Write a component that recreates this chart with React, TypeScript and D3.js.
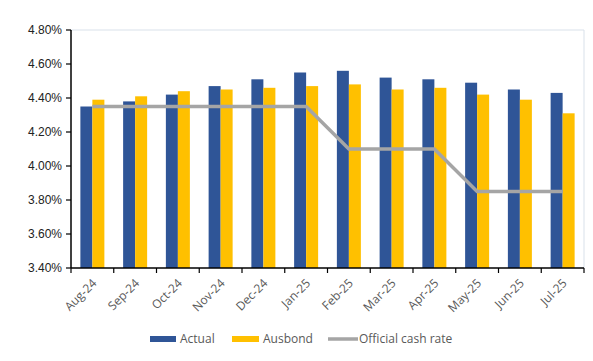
import React from "react";
import * as d3 from "d3";

const categories = ["Aug-24","Sep-24","Oct-24","Nov-24","Dec-24","Jan-25","Feb-25","Mar-25","Apr-25","May-25","Jun-25","Jul-25"];
const actual = [4.35,4.38,4.42,4.47,4.51,4.55,4.56,4.52,4.51,4.49,4.45,4.43];
const ausbond = [4.39,4.41,4.44,4.45,4.46,4.47,4.48,4.45,4.46,4.42,4.39,4.31];
const cashRate = [4.35,4.35,4.35,4.35,4.35,4.35,4.10,4.10,4.10,3.85,3.85,3.85];
const yTicks = [3.4,3.6,3.8,4.0,4.2,4.4,4.6,4.8];
const seriesNames = ["Actual","Ausbond","Official cash rate"];

const W = 593, H = 361;
const left = 71, right = 584, top = 30, bottom = 268;
const BLUE = "#2F5597", GOLD = "#FFC000", GREY = "#A5A5A5";

export default function App() {
  const x = d3.scaleBand<string>().domain(categories).range([left, right]).paddingInner(0).paddingOuter(0);
  const y = d3.scaleLinear().domain([3.4, 4.8]).range([bottom, top]);
  const bw = x.bandwidth();
  const barW = 12;
  const line = d3.line<number>()
    .x((_, i) => (x(categories[i]) as number) + bw / 2)
    .y(d => y(d));
  const ticksX = categories.map(c => x(c) as number).concat([right]);
  return (
    <svg width={W} height={H} style={{ position: "absolute", left: 0, top: 0, background: "#fff" }}>
      <line x1={left} x2={right} y1={top} y2={top} stroke="#D9E1EA" strokeWidth={1} />
      <line x1={right} x2={right} y1={top} y2={bottom} stroke="#D9E1EA" strokeWidth={1} />
      {categories.map((c, i) => {
        const cx = (x(c) as number) + bw / 2;
        return (
          <g key={c}>
            <rect x={cx - barW} y={y(actual[i])} width={barW} height={bottom - y(actual[i])} fill={BLUE} />
            <rect x={cx} y={y(ausbond[i])} width={barW} height={bottom - y(ausbond[i])} fill={GOLD} />
          </g>
        );
      })}
      <path d={line(cashRate) as string} fill="none" stroke={GREY} strokeWidth={3.5} />
      <line x1={left} x2={left} y1={top} y2={bottom} stroke="#000" strokeWidth={1.5} />
      <line x1={left} x2={right} y1={bottom} y2={bottom} stroke="#000" strokeWidth={1.5} />
      {yTicks.map(t => (
        <g key={t}>
          <line x1={left - 5} x2={left} y1={y(t)} y2={y(t)} stroke="#000" strokeWidth={1.2} />
          <text x={left - 9} y={y(t)} dy="0.35em" textAnchor="end" fontFamily="Liberation Sans, Arial, sans-serif" fontSize={12} fill="#222">
            {t.toFixed(2) + "%"}
          </text>
        </g>
      ))}
      {ticksX.map((tx, i) => (
        <line key={i} x1={tx} x2={tx} y1={bottom} y2={bottom + 5} stroke="#000" strokeWidth={1.2} />
      ))}
      {categories.map(c => {
        const cx = (x(c) as number) + bw / 2 + 2;
        const ty = bottom + 13;
        return (
          <text key={c} x={cx} y={ty} textAnchor="end" dy="0.35em" transform={`rotate(-45 ${cx} ${ty})`}
            fontFamily="Open Sans, Liberation Sans, sans-serif" fontSize={12} fill="#595959">{c}</text>
        );
      })}
      <g fontFamily="Open Sans, Liberation Sans, sans-serif" fontSize={12} fill="#595959">
        <rect x={150} y={336} width={26} height={6} fill={BLUE} />
        <text x={180} y={339} dy="0.35em">{seriesNames[0]}</text>
        <rect x={232} y={336} width={27} height={6} fill={GOLD} />
        <text x={263} y={339} dy="0.35em">{seriesNames[1]}</text>
        <line x1={328} x2={358} y1={339} y2={339} stroke={GREY} strokeWidth={3.5} />
        <text x={359} y={339} dy="0.35em">{seriesNames[2]}</text>
      </g>
    </svg>
  );
}
